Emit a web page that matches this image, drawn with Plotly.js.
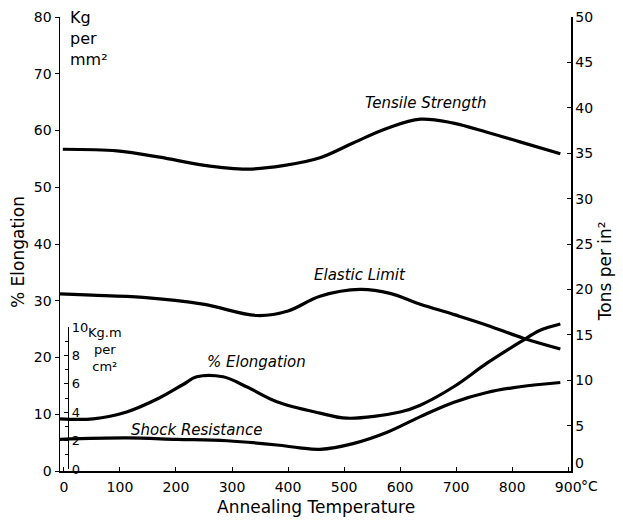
<!DOCTYPE html>
<html>
<head>
<meta charset="utf-8">
<script src="https://cdn.plot.ly/plotly-3.0.1.min.js"></script>
<style>html,body{margin:0;padding:0;background:#fff;}#chart{width:623px;height:522px;}</style>
</head>
<body>
<div id="chart"></div>
<script>
// Annealing temperature (°C) and values
const tensileT   = [-2, 95, 171, 248, 327, 391, 457, 516, 577, 636, 695, 755, 814, 886];
const tensileKg  = [56.7, 56.4, 55.3, 53.9, 53.2, 53.8, 55.2, 57.8, 60.4, 62.0, 61.3, 59.7, 58.0, 55.9];

const elasticT   = [-7, 50, 141, 248, 345, 400, 457, 529, 582, 636, 695, 755, 820, 886];
const elasticKg  = [31.2, 31.0, 30.6, 29.4, 27.4, 28.2, 30.8, 32.0, 31.3, 29.4, 27.6, 25.7, 23.4, 21.5];

const elongT     = [-7, 52, 112, 171, 212, 237, 284, 327, 380, 457, 505, 600, 636, 695, 755, 814, 850, 886];
const elongPct   = [9.2, 9.2, 10.4, 12.9, 15.2, 16.6, 16.6, 14.8, 12.2, 10.2, 9.3, 10.4, 11.6, 14.8, 19.0, 22.7, 24.8, 25.9];

const shockT     = [-7, 112, 202, 291, 380, 421, 457, 516, 577, 636, 695, 755, 814, 886];
const shockKgm   = [2.1, 2.2, 2.1, 2.0, 1.7, 1.5, 1.4, 1.8, 2.6, 3.7, 4.7, 5.4, 5.8, 6.1];

const xTicks     = [0, 100, 200, 300, 400, 500, 600, 700, 800, 900];
const leftTicks  = [0, 10, 20, 30, 40, 50, 60, 70, 80];
const rightTicks = [0, 5, 10, 15, 20, 25, 30, 35, 40, 45, 50];
const shockTicks = [0, 2, 4, 6, 8, 10];

const FONT = 'DejaVu Sans, Liberation Sans, sans-serif';
const IT = 'DejaVu Sans, Liberation Sans, sans-serif';
const line = {color: '#000', width: 3.2, shape: 'spline', smoothing: 1};

const traces = [
  {x: tensileT, y: tensileKg, mode: 'lines', line: line, xaxis: 'x', yaxis: 'y', hoverinfo: 'skip'},
  {x: elasticT, y: elasticKg, mode: 'lines', line: line, xaxis: 'x', yaxis: 'y', hoverinfo: 'skip'},
  {x: elongT, y: elongPct, mode: 'lines', line: line, xaxis: 'x', yaxis: 'y', hoverinfo: 'skip'},
  {x: shockT, y: shockKgm, mode: 'lines', line: line, xaxis: 'x', yaxis: 'y3', hoverinfo: 'skip'},
  {x: [0], y: [0], mode: 'none', xaxis: 'x', yaxis: 'y2', hoverinfo: 'skip'}
];

const layout = {
  width: 623, height: 522,
  margin: {l: 60, r: 52, t: 17, b: 51},
  paper_bgcolor: '#fff', plot_bgcolor: 'rgba(0,0,0,0)',
  showlegend: false,
  font: {family: FONT, color: '#000', size: 14},
  xaxis: {
    range: [-7, 905], tickvals: xTicks, ticktext: xTicks.map(String),
    showgrid: false, zeroline: false, showline: true, linecolor: '#000', linewidth: 1.5,
    ticks: 'inside', ticklen: 4, tickcolor: '#000', tickfont: {size: 14, family: FONT},
    ticklabelstandoff: 3,
    anchor: 'y', fixedrange: true
  },
  yaxis: {
    range: [0, 80], tickvals: leftTicks, showgrid: false, zeroline: false,
    showline: true, linecolor: '#000', linewidth: 1.5,
    ticks: 'outside', ticklen: 4, tickcolor: '#000', tickfont: {size: 14, family: FONT},
    domain: [0, 1], fixedrange: true
  },
  yaxis2: {
    range: [0, 50], tickvals: rightTicks,
    ticktext: rightTicks.map(v => v === 0 ? '' : String(v)),
    overlaying: 'y', side: 'right',
    showgrid: false, zeroline: false, showline: true, linecolor: '#000', linewidth: 1.5,
    ticks: 'inside', ticklen: 4, tickcolor: '#000', tickfont: {size: 14, family: FONT},
    fixedrange: true
  },
  yaxis3: {
    range: [0, 10], tickvals: shockTicks, domain: [0.004, 0.317],
    anchor: 'free', position: 0.0157, side: 'right',
    showgrid: false, zeroline: false, showline: true, linecolor: '#000', linewidth: 1.2,
    ticks: 'inside', ticklen: 4, tickcolor: '#000', tickfont: {size: 13, family: FONT},
    minor: {dtick: 1, ticklen: 3, ticks: 'inside', tickcolor: '#000'},
    fixedrange: true
  },
  annotations: [
    {text: 'Tensile Strength', x: 645, y: 64.8, xref: 'x', yref: 'y', showarrow: false,
     font: {family: IT, size: 15, style: 'italic'}},
    {text: 'Elastic Limit', x: 529, y: 34.5, xref: 'x', yref: 'y', showarrow: false,
     font: {family: IT, size: 15, style: 'italic'}},
    {text: '% Elongation', x: 343, y: 19.2, xref: 'x', yref: 'y', showarrow: false,
     font: {family: IT, size: 15, style: 'italic'}},
    {text: 'Shock Resistance', x: 237, y: 7.2, xref: 'x', yref: 'y', showarrow: false,
     font: {family: IT, size: 15, style: 'italic'}},
    {text: 'Kg<br>per<br>mm²', x: 0.016, y: 1.025, xref: 'paper', yref: 'paper',
     xanchor: 'left', yanchor: 'top', align: 'left', showarrow: false,
     font: {family: FONT, size: 16}},
    {text: 'Kg.m<br>per<br>cm²', x: 0.05, y: 0.325, xref: 'paper', yref: 'paper',
     xanchor: 'left', yanchor: 'top', align: 'center', showarrow: false,
     font: {family: FONT, size: 13}},
    {text: '°C', x: 900, y: 0, xref: 'x', yref: 'paper', xanchor: 'left', yanchor: 'top',
     xshift: 11, yshift: -5, showarrow: false, font: {family: FONT, size: 14}},
    {text: '% Elongation', x: (18 - 60) / 511, y: (471 - 252) / 454, xref: 'paper', yref: 'paper',
     xanchor: 'center', yanchor: 'middle', showarrow: false,
     textangle: -90, font: {family: FONT, size: 17}},
    {text: 'Tons per in²', x: 1, y: 0.44, xref: 'paper', yref: 'paper', xanchor: 'center',
     xshift: 34, showarrow: false, textangle: -90, font: {family: FONT, size: 17}},
    {text: 'Annealing Temperature', x: 0.5, y: 0, xref: 'paper', yref: 'paper',
     yanchor: 'top', yshift: -24, showarrow: false, font: {family: FONT, size: 17}},
    {text: '0', x: 1, y: 0, xref: 'paper', yref: 'paper', xanchor: 'left', yanchor: 'bottom',
     xshift: 2, yshift: -2, showarrow: false, font: {family: FONT, size: 14}}
  ]
};

Plotly.newPlot('chart', traces, layout, {staticPlot: true, displayModeBar: false});
</script>
</body>
</html>
